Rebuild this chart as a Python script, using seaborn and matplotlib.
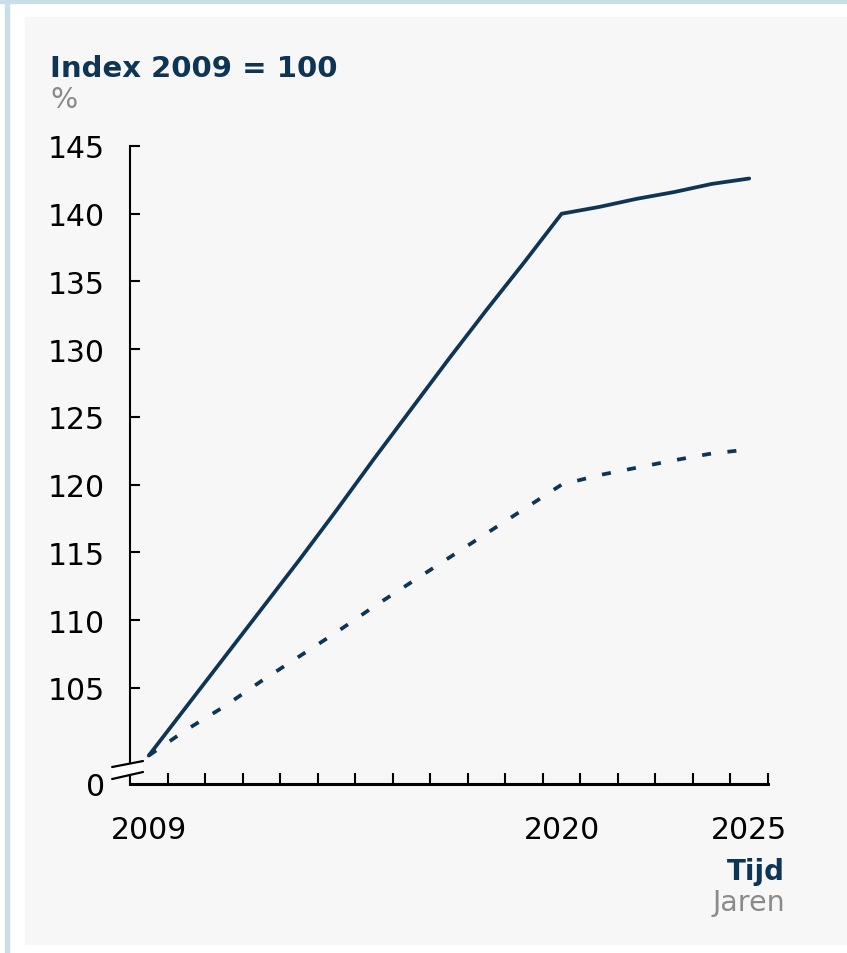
import numpy as np
import pandas as pd
import matplotlib.pyplot as plt
import seaborn as sns
from matplotlib.patches import Rectangle, Polygon
from matplotlib.lines import Line2D

# data (index 2009 = 100)
years = list(range(2009, 2026))
solid_values = [100.0, 103.6, 107.2, 110.8, 114.4, 118.1, 121.9, 125.6, 129.3,
                132.9, 136.4, 140.0, 140.5, 141.1, 141.6, 142.2, 142.6]
dotted_values = [100.0, 101.9, 103.6, 105.5, 107.3, 109.1, 111.0, 112.8, 114.6,
                 116.4, 118.2, 120.0, 120.7, 121.25, 121.8, 122.3, 122.6]
y_ticks = [105, 110, 115, 120, 125, 130, 135, 140, 145]
x_labels = [2009, 2020, 2025]

title = "Index 2009 = 100"
unit = "%"
x_title = "Tijd"
x_unit = "Jaren"

navy = "#0f3555"
grey = "#8a8a8a"

df = pd.DataFrame({"jaar": years, "solid": solid_values, "dotted": dotted_values})

sns.set_style("white")
plt.rcParams['font.family'] = ['DejaVu Sans']

fig = plt.figure(figsize=(8.47, 9.54), dpi=100)
fig.patch.set_facecolor("white")

# frame: light blue edge + grey panel (behind the axes)
fig.patches.append(Rectangle((0, 1 - 4 / 954), 1, 4 / 954, transform=fig.transFigure,
                             color="#c9dee7", zorder=-10))
fig.patches.append(Rectangle((5 / 847, 0), 4 / 847, 1, transform=fig.transFigure,
                             color="#c9dee7", zorder=-10))
fig.patches.append(Rectangle((25 / 847, 9 / 954), 1, 1 - 27 / 954,
                             transform=fig.transFigure, color="#f7f7f7", zorder=-10))

ax = fig.add_axes([130 / 847, 1 - 785 / 954, 638 / 847, 638 / 954])
ax.set_facecolor("none")

sns.lineplot(data=df, x="jaar", y="solid", ax=ax, color=navy, linewidth=2.7)
sns.lineplot(data=df, x="jaar", y="dotted", ax=ax, color=navy, linewidth=2.7,
             dashes=False)
ax.lines[1].set_linestyle((0, (2.4, 4.4)))
ax.lines[1].set_dash_capstyle("butt")

y_bottom = 97.9
ax.set_xlim(years[0] - 0.5, years[-1] + 0.5)
ax.set_ylim(y_bottom, 145)

ax.set_yticks([y_bottom] + y_ticks)
ax.set_yticklabels(["0"] + [str(v) for v in y_ticks])
ax.set_xticks(x_labels)
ax.set_xticklabels([str(v) for v in x_labels])
ax.set_xticks([y + 0.5 for y in years], minor=True)

ax.tick_params(axis="y", which="major", left=True, direction="in", length=7,
               width=1.5, labelsize=21.5, pad=18, color="black", labelcolor="black")
ax.tick_params(axis="x", which="major", bottom=True, length=0, labelsize=21.5,
               pad=22, labelcolor="black")
ax.tick_params(axis="x", which="minor", bottom=True, direction="in", length=8,
               width=1.5, color="black")
ax.yaxis.get_major_ticks()[0].tick1line.set_visible(False)

for s in ["top", "right"]:
    ax.spines[s].set_visible(False)
ax.spines["left"].set_linewidth(1.5)
ax.spines["bottom"].set_linewidth(2.2)
ax.spines["left"].set_color("black")
ax.spines["bottom"].set_color("black")
ax.set_xlabel("")
ax.set_ylabel("")

# axis break marker
brk = Polygon([(-0.028, 0.0266), (0.0204, 0.036), (0.0204, 0.0188), (-0.028, 0.0078)],
              closed=True, transform=ax.transAxes, facecolor="white",
              edgecolor="none", clip_on=False, zorder=5)
ax.add_patch(brk)
for (x0, y0, x1, y1) in [(-0.028, 0.0266, 0.0204, 0.036), (-0.028, 0.0078, 0.0204, 0.0188)]:
    ax.add_line(Line2D([x0, x1], [y0, y1], transform=ax.transAxes, color="black",
                       linewidth=1.6, clip_on=False, zorder=6))

fig.text(50 / 847, 1 - 77 / 954, title, fontsize=21, fontweight="bold",
         color=navy, va="baseline", ha="left")
fig.text(50 / 847, 1 - 108 / 954, unit, fontsize=20.5, color=grey,
         va="baseline", ha="left")
fig.text(785 / 847, 1 - 880 / 954, x_title, fontsize=20, fontweight="bold",
         color=navy, va="baseline", ha="right")
fig.text(785 / 847, 1 - 911 / 954, x_unit, fontsize=20.5, color=grey,
         va="baseline", ha="right")

fig.savefig("out.png", dpi=100, facecolor=fig.get_facecolor())
